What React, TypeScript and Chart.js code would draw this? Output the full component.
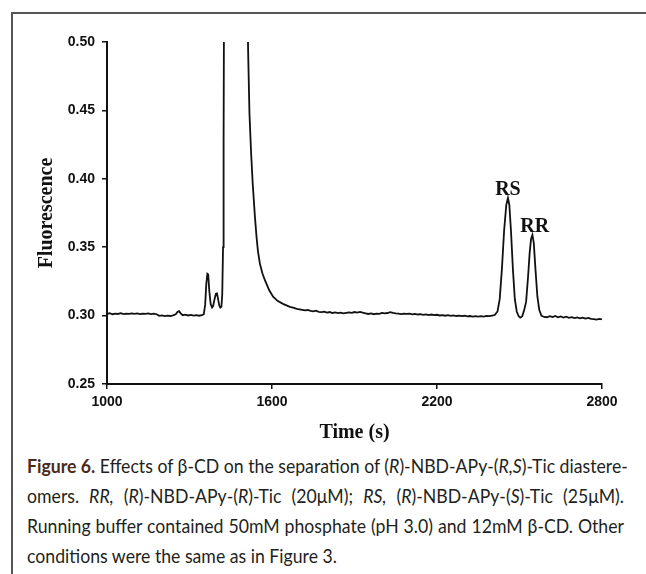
import React, { useEffect, useRef } from "react";
import { Chart, registerables } from "chart.js";

Chart.register(...registerables);

// Time (s)
const times = [
  1000, 1010, 1020, 1030, 1040, 1050, 1060, 1070, 1080, 1090, 1100, 1110, 1120, 1130, 1140, 1150, 1160, 1170, 1180,
  1190, 1200, 1210, 1220, 1230, 1240, 1250, 1256, 1262, 1268, 1275, 1285, 1295, 1305, 1315, 1325, 1335, 1345, 1352,
  1357, 1361, 1365, 1368, 1372, 1377, 1382, 1386, 1391, 1396, 1400, 1404, 1408, 1412, 1416, 1419, 1422, 1424, 1426,
  1430, 1470, 1505, 1510, 1513, 1518, 1524, 1530, 1538, 1544, 1549, 1556, 1565, 1575, 1590, 1604, 1620, 1640, 1665,
  1680, 1690, 1700, 1710, 1720, 1730, 1740, 1750, 1760, 1770, 1780, 1790, 1800, 1810, 1820, 1830, 1840, 1850, 1860,
  1870, 1880, 1890, 1900, 1910, 1920, 1930, 1940, 1950, 1960, 1970, 1980, 1990, 2000, 2010, 2020, 2030, 2040, 2050,
  2060, 2070, 2080, 2090, 2100, 2110, 2120, 2130, 2140, 2150, 2160, 2170, 2180, 2190, 2200, 2210, 2220, 2230, 2240,
  2250, 2260, 2270, 2280, 2290, 2300, 2310, 2320, 2330, 2340, 2350, 2360, 2370, 2380, 2390, 2400, 2410, 2420, 2428,
  2436, 2444, 2452, 2458, 2463, 2469, 2476, 2483, 2490, 2497, 2503, 2510, 2517, 2524, 2531, 2537, 2542, 2547, 2552,
  2558, 2565, 2572, 2580, 2590, 2600, 2610, 2620, 2630, 2640, 2650, 2660, 2670, 2680, 2690, 2700, 2710, 2720, 2730,
  2740, 2750, 2760, 2770, 2780, 2790, 2800,
];

// Fluorescence signal
const fluorescence = [
  0.3012, 0.3017, 0.301, 0.3015, 0.3012, 0.3018, 0.3011, 0.3014, 0.3012, 0.3016, 0.3013, 0.3016, 0.3011, 0.3015,
  0.3012, 0.3016, 0.3011, 0.3014, 0.301, 0.2998, 0.3001, 0.2996, 0.3, 0.2997, 0.3002, 0.301, 0.3026, 0.3032, 0.3016,
  0.3003, 0.3007, 0.3001, 0.3005, 0.3, 0.3004, 0.2999, 0.3003, 0.301, 0.308, 0.323, 0.3305, 0.33, 0.318, 0.3085,
  0.306, 0.307, 0.312, 0.316, 0.3162, 0.312, 0.3075, 0.3058, 0.3065, 0.315, 0.35, 0.43, 0.56, 0.7, 0.8, 0.7, 0.56,
  0.495, 0.448, 0.419, 0.396, 0.372, 0.357, 0.347, 0.338, 0.331, 0.3255, 0.3185, 0.3138, 0.3108, 0.3086, 0.3064,
  0.3056, 0.305, 0.3046, 0.3042, 0.3038, 0.3041, 0.3034, 0.3031, 0.3036, 0.3028, 0.3025, 0.3029, 0.3022, 0.3026,
  0.3019, 0.3023, 0.3018, 0.3021, 0.3016, 0.302, 0.3024, 0.302, 0.3026, 0.3022, 0.3027, 0.3021, 0.3017, 0.3012,
  0.3016, 0.301, 0.3015, 0.3013, 0.302, 0.3016, 0.3019, 0.3025, 0.302, 0.3016, 0.3014, 0.3011, 0.3015, 0.3012,
  0.3014, 0.3009, 0.3013, 0.3008, 0.3011, 0.3006, 0.3009, 0.3004, 0.3008, 0.3003, 0.3006, 0.3001, 0.3004, 0.2999,
  0.3003, 0.2998, 0.3002, 0.2997, 0.3, 0.2996, 0.2999, 0.2994, 0.2997, 0.2993, 0.2996, 0.2992, 0.2996, 0.2993,
  0.2998, 0.2996, 0.3, 0.3004, 0.303, 0.312, 0.334, 0.362, 0.381, 0.386, 0.381, 0.362, 0.334, 0.312, 0.303, 0.2995,
  0.2985, 0.2995, 0.304, 0.31, 0.328, 0.346, 0.356, 0.359, 0.353, 0.334, 0.314, 0.304, 0.2998, 0.299, 0.2988,
  0.2996, 0.299, 0.2998, 0.2988, 0.2994, 0.2986, 0.2992, 0.2984, 0.2989, 0.2982, 0.2987, 0.298, 0.2985, 0.2978,
  0.2983, 0.2976, 0.2974, 0.2971, 0.2976, 0.2972,
];

const xTicks = [1000, 1600, 2200, 2800];
const yTicks = [0.25, 0.3, 0.35, 0.4, 0.45, 0.5];

const peakLabels = ["RS", "RR"];
const peakLabelTimes = [2458, 2555];
const peakLabelValues = [0.386, 0.359];

const W = 646;
const CH = 450;

const peakLabelPlugin = {
  id: "peakLabels",
  afterDatasetsDraw(chart: any) {
    const { ctx, scales } = chart;
    ctx.save();
    ctx.font = "bold 20px 'Liberation Serif', 'Times New Roman', serif";
    ctx.fillStyle = "#111";
    ctx.textAlign = "center";
    ctx.textBaseline = "alphabetic";
    peakLabels.forEach((t, i) => {
      const x = scales.x.getPixelForValue(peakLabelTimes[i]);
      const y = scales.y.getPixelForValue(peakLabelValues[i]);
      ctx.fillText(t, x, y - 3);
    });
    ctx.restore();
  },
};

function ChartView() {
  const ref = useRef<HTMLCanvasElement | null>(null);
  useEffect(() => {
    if (!ref.current) return;
    const chart = new Chart(ref.current, {
      type: "line",
      data: {
        datasets: [
          {
            data: times.map((t, i) => ({ x: t, y: fluorescence[i] })),
            borderColor: "#111",
            borderWidth: 1.8,
            pointRadius: 0,
            tension: 0,
            fill: false,
          },
        ],
      },
      options: {
        responsive: false,
        animation: false,
        devicePixelRatio: 1,
        layout: { padding: { left: 0, top: 42, right: 44, bottom: 0 } },
        plugins: { legend: { display: false }, tooltip: { enabled: false } },
        scales: {
          x: {
            type: "linear",
            min: 1000,
            max: 2800,
            afterFit: (s: any) => {
              s.height = CH - 384;
            },
            afterBuildTicks: (s: any) => {
              s.ticks = xTicks.map((v) => ({ value: v }));
            },
            ticks: {
              color: "#111",
              padding: 5,
              maxRotation: 0,
              font: { family: "'Liberation Sans', Arial, sans-serif", size: 14, weight: "bold" },
              callback: (v: any) => String(v),
            },
            grid: { drawOnChartArea: false, drawTicks: true, tickLength: 5, color: "#111", lineWidth: 1.5 },
            border: { display: true, color: "#111", width: 2 },
            title: {
              display: true,
              text: "Time (s)",
              color: "#111",
              padding: { top: 0, bottom: 5 },
              font: { family: "'Liberation Serif', 'Times New Roman', serif", size: 20, weight: "bold" },
            },
          },
          y: {
            type: "linear",
            min: 0.25,
            max: 0.5,
            afterFit: (s: any) => {
              s.width = 107;
            },
            afterBuildTicks: (s: any) => {
              s.ticks = yTicks.map((v) => ({ value: v }));
            },
            ticks: {
              color: "#111",
              padding: 7,
              font: { family: "'Liberation Sans', Arial, sans-serif", size: 14, weight: "bold" },
              callback: (v: any) => Number(v).toFixed(2),
            },
            grid: { drawOnChartArea: false, drawTicks: true, tickLength: 5, color: "#111", lineWidth: 1.5 },
            border: { display: true, color: "#111", width: 2 },
            title: {
              display: true,
              text: "Fluorescence",
              color: "#111",
              padding: { top: 35, bottom: 0 },
              font: { family: "'Liberation Serif', 'Times New Roman', serif", size: 20, weight: "bold" },
            },
          },
        },
      },
      plugins: [peakLabelPlugin],
    });
    return () => chart.destroy();
  }, []);
  return (
    <canvas
      ref={ref}
      width={W}
      height={CH}
      style={{ position: "absolute", left: 0, top: 0, width: W, height: CH }}
    />
  );
}

const captionFont = "Lato, 'Open Sans', sans-serif";
const SQUEEZE = 0.93;
const CAP_W = 597;

const lineStyle = (last: boolean): React.CSSProperties =>
  ({
    height: 30,
    lineHeight: "30px",
    whiteSpace: "nowrap",
    textAlign: "justify",
    textAlignLast: last ? "left" : "justify",
  } as React.CSSProperties);

export default function App() {
  return (
    <div style={{ position: "absolute", left: 0, top: 0, width: W, height: 574, background: "#fff", overflow: "hidden" }}>
      <div
        style={{
          position: "absolute",
          left: 11,
          top: 12,
          right: 0,
          bottom: 0,
          borderLeft: "2px solid #555",
          borderTop: "2px solid #555",
        }}
      />
      <ChartView />
      <div
        style={{
          position: "absolute",
          left: 27,
          top: 451,
          width: CAP_W / SQUEEZE,
          transform: `scaleX(${SQUEEZE})`,
          transformOrigin: "left top",
          fontFamily: captionFont,
          fontSize: 19,
          color: "#231f20",
        }}
      >
        <div style={lineStyle(false)}>
          <b style={{ color: "#4b2a1d" }}>Figure 6.</b> Effects of β-CD on the separation of (<i>R</i>)-NBD-APy-(<i>R,S</i>)-Tic diastere-
        </div>
        <div style={lineStyle(false)}>
          omers. <i>RR,</i> (<i>R</i>)-NBD-APy-(<i>R</i>)-Tic (20μM); <i>RS,</i> (<i>R</i>)-NBD-APy-(<i>S</i>)-Tic (25μM).
        </div>
        <div style={lineStyle(false)}>
          Running buffer contained 50mM phosphate (pH 3.0) and 12mM β-CD. Other
        </div>
        <div style={lineStyle(true)}>conditions were the same as in Figure 3.</div>
      </div>
    </div>
  );
}
